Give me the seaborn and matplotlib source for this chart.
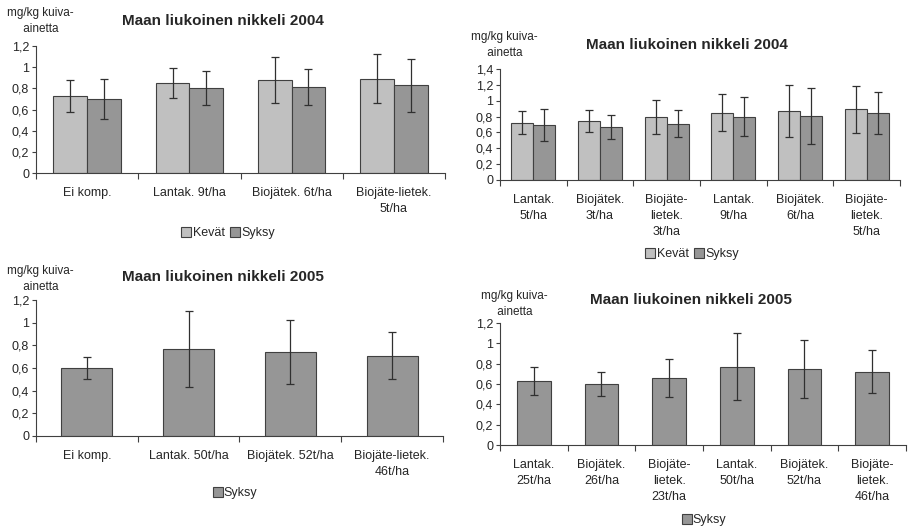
import numpy as np
import pandas as pd
import seaborn as sns
import matplotlib.pyplot as plt
from matplotlib.ticker import FuncFormatter, FixedLocator

# Maan liukoinen nikkeli, keskiarvot ja keskihajonnat (luettu kuvasta)
kausi = ["Kevät", "Syksy"]
varit = {"Kevät": "#c0c0c0", "Syksy": "#969696"}

# 2004, vasen
kas_04a = ["Ei komp.", "Lantak. 9t/ha", "Biojätek. 6t/ha", "Biojäte-lietek.\n5t/ha"]
kevat_04a = [0.73, 0.85, 0.88, 0.89]
kevat_04a_sd = [0.15, 0.14, 0.22, 0.23]
syksy_04a = [0.70, 0.80, 0.81, 0.83]
syksy_04a_sd = [0.19, 0.16, 0.17, 0.25]

# 2004, oikea
kas_04b = ["Lantak.\n5t/ha", "Biojätek.\n3t/ha", "Biojäte-\nlietek.\n3t/ha",
           "Lantak.\n9t/ha", "Biojätek.\n6t/ha", "Biojäte-\nlietek.\n5t/ha"]
kevat_04b = [0.72, 0.74, 0.79, 0.85, 0.87, 0.89]
kevat_04b_sd = [0.145, 0.14, 0.215, 0.23, 0.33, 0.295]
syksy_04b = [0.69, 0.67, 0.71, 0.80, 0.81, 0.84]
syksy_04b_sd = [0.20, 0.15, 0.17, 0.25, 0.35, 0.265]

# 2005, vasen
kas_05a = ["Ei komp.", "Lantak. 50t/ha", "Biojätek. 52t/ha", "Biojäte-lietek.\n46t/ha"]
syksy_05a = [0.60, 0.77, 0.74, 0.71]
syksy_05a_sd = [0.10, 0.335, 0.28, 0.21]

# 2005, oikea
kas_05b = ["Lantak.\n25t/ha", "Biojätek.\n26t/ha", "Biojäte-\nlietek.\n23t/ha",
           "Lantak.\n50t/ha", "Biojätek.\n52t/ha", "Biojäte-\nlietek.\n46t/ha"]
syksy_05b = [0.63, 0.60, 0.66, 0.77, 0.75, 0.72]
syksy_05b_sd = [0.14, 0.12, 0.19, 0.33, 0.285, 0.21]

sns.set_style("white")
plt.rcParams["font.family"] = ["Liberation Sans", "DejaVu Sans"]
plt.rcParams["font.size"] = 9

W, H = 908, 526
fig = plt.figure(figsize=(W / 100, H / 100), dpi=100)


def px_axes(x0, y0, x1, y1):
    return fig.add_axes([x0 / W, 1 - y1 / H, (x1 - x0) / W, (y1 - y0) / H])


def pilkku(v, pos):
    return ("%g" % round(v, 1)).replace(".", ",")


def piirra(ax, kasittelyt, sarjat, ymax, leveys):
    rivit = []
    for nimi, (arvot, sd) in sarjat.items():
        for k, a, s in zip(kasittelyt, arvot, sd):
            rivit.append({"kas": k, "Kausi": nimi, "arvo": a, "sd": s})
    df = pd.DataFrame(rivit)
    nimet = list(sarjat.keys())
    sns.barplot(data=df, x="kas", y="arvo", hue="Kausi", hue_order=nimet,
                palette=varit, errorbar=None, width=leveys, legend=False,
                edgecolor="#404040", linewidth=0.8, saturation=1, ax=ax)
    for cont, nimi in zip(ax.containers, nimet):
        osa = df[df["Kausi"] == nimi]
        xs = [b.get_x() + b.get_width() / 2 for b in cont]
        ax.errorbar(xs, osa["arvo"], yerr=osa["sd"], fmt="none",
                    ecolor="#303030", elinewidth=0.9, capsize=3, capthick=0.9)
    n = len(kasittelyt)
    ax.set_xlim(-0.5, n - 0.5)
    ax.set_ylim(0, ymax)
    ax.set_yticks(np.arange(0, ymax + 0.01, 0.2))
    ax.yaxis.set_major_formatter(FuncFormatter(pilkku))
    ax.xaxis.set_minor_locator(FixedLocator(np.arange(-0.5, n, 1.0)))
    ax.tick_params(axis="x", which="major", length=0, pad=10, labelsize=9)
    ax.tick_params(axis="x", which="minor", length=4, direction="out",
                   color="#404040", width=0.8, bottom=True)
    ax.tick_params(axis="y", length=3, direction="out", color="#404040",
                   width=0.8, left=True, labelsize=9, pad=2)
    for lab in ax.get_xticklabels():
        lab.set_linespacing(1.45)
    ax.set_xlabel("")
    ax.set_ylabel("")
    for s in ["top", "right"]:
        ax.spines[s].set_visible(False)
    for s in ["left", "bottom"]:
        ax.spines[s].set_color("#404040")
        ax.spines[s].set_linewidth(0.8)
    return [plt.Rectangle((0, 0), 1, 1, facecolor=varit[k], edgecolor="#404040",
                          linewidth=0.8) for k in nimet], nimet


def otsikot(otsikko, tx, ty, lx, ly, legx, legy, kahvat, nimet):
    fig.text(tx / W, 1 - ty / H, otsikko, ha="center", va="center",
             fontsize=11, fontweight="bold")
    fig.text(lx / W, 1 - ly / H, "mg/kg kuiva-\n     ainetta", ha="left",
             va="center", fontsize=8.5, linespacing=1.45)
    fig.legend(kahvat, nimet, loc="center", bbox_to_anchor=(legx / W, 1 - legy / H),
               ncol=len(nimet), frameon=False, handlelength=0.8, handleheight=0.8,
               handletextpad=0.1, columnspacing=0.4, fontsize=9)


ax1 = px_axes(36, 46, 445, 173)
h, n = piirra(ax1, kas_04a, {"Kevät": (kevat_04a, kevat_04a_sd),
                             "Syksy": (syksy_04a, syksy_04a_sd)}, 1.2, 0.66)
otsikot("Maan liukoinen nikkeli 2004", 223, 21, 7, 21, 228, 233, h, n)

ax2 = px_axes(500, 69, 900, 180)
h, n = piirra(ax2, kas_04b, {"Kevät": (kevat_04b, kevat_04b_sd),
                             "Syksy": (syksy_04b, syksy_04b_sd)}, 1.4, 0.66)
otsikot("Maan liukoinen nikkeli 2004", 687, 45, 471, 45, 692, 254, h, n)

ax3 = px_axes(36, 300, 443, 436)
h, n = piirra(ax3, kas_05a, {"Syksy": (syksy_05a, syksy_05a_sd)}, 1.2, 0.5)
otsikot("Maan liukoinen nikkeli 2005", 223, 277, 7, 279, 235, 493, h, n)

ax4 = px_axes(500, 323, 906, 445)
h, n = piirra(ax4, kas_05b, {"Syksy": (syksy_05b, syksy_05b_sd)}, 1.2, 0.5)
otsikot("Maan liukoinen nikkeli 2005", 691, 300, 481, 304, 704, 520, h, n)

fig.savefig("out.png", dpi=100)
